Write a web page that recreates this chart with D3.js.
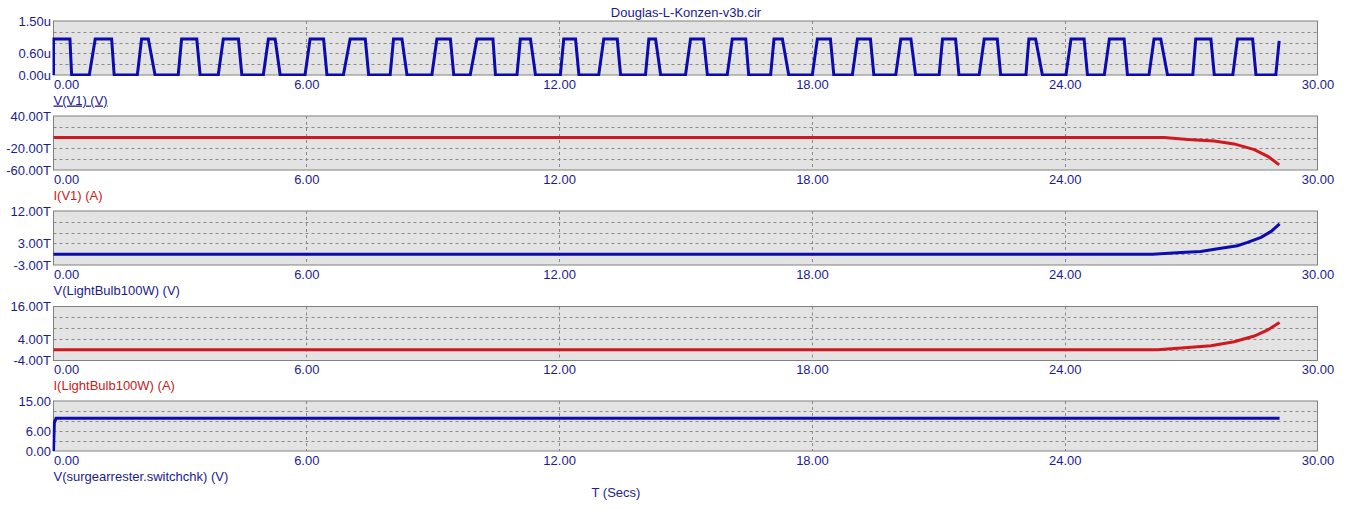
<!DOCTYPE html>
<html>
<head>
<meta charset="utf-8">
<script src="https://cdn.jsdelivr.net/npm/d3@7"></script>
<style>
  body { margin: 0; background: #fff; }
  svg { display: block; }
  text { font-family: Arial, "Liberation Sans", sans-serif; }
</style>
</head>
<body>
<div id="chart"></div>
<script>
var width = 1353;
var height = 513;

// x axis: time in seconds
var xDomain = [0, 30];
var xTicks = [0, 6, 12, 18, 24, 30];

// each pulse of V(V1): [rise start, rise end, fall start, fall end] in secs
var pulseEdges = [
  [0.00, 0.00, 0.39, 0.43], [0.85, 0.99, 1.38, 1.44], [1.99, 2.09, 2.25, 2.41],
  [2.96, 3.04, 3.40, 3.48], [3.91, 4.03, 4.39, 4.47], [4.98, 5.10, 5.26, 5.38],
  [5.97, 6.09, 6.41, 6.49], [6.88, 7.04, 7.40, 7.48], [7.99, 8.07, 8.27, 8.39],
  [8.98, 9.10, 9.42, 9.50], [9.89, 10.05, 10.43, 10.49], [11.00, 11.08, 11.32, 11.44],
  [12.03, 12.11, 12.39, 12.47], [12.94, 13.06, 13.38, 13.46], [14.05, 14.13, 14.29, 14.41],
  [15.00, 15.12, 15.43, 15.52], [15.99, 16.11, 16.43, 16.50], [17.02, 17.10, 17.30, 17.45],
  [18.01, 18.13, 18.44, 18.52], [18.96, 19.08, 19.39, 19.47], [19.99, 20.11, 20.35, 20.46],
  [21.02, 21.10, 21.41, 21.49], [21.97, 22.09, 22.40, 22.48], [23.08, 23.15, 23.31, 23.47],
  [24.03, 24.15, 24.46, 24.54], [24.94, 25.06, 25.41, 25.49], [26.00, 26.12, 26.28, 26.44],
  [27.04, 27.11, 27.47, 27.55], [27.99, 28.10, 28.46, 28.54]
];
var pulseHigh = 1.0;
// last partial rise at the end of the run
var pulseTail = [[29.01, 0], [29.09, 0.95]];

// [t, value] samples of the other traces
var iV1 = [[0, 0], [26.36, 0], [26.92, -3.7], [27.55, -6.1], [28.02, -11.7],
  [28.50, -22.2], [28.82, -34.6], [29.09, -50.6]];
var vBulb = [[0, 0], [26.09, 0], [26.76, 0.5], [27.23, 0.78], [27.63, 1.53],
  [28.10, 2.36], [28.34, 3.28], [28.66, 4.67], [28.90, 6.33], [29.10, 8.4]];
var iBulb = [[0, 0], [26.20, 0], [26.85, 0.7], [27.47, 1.46], [28.02, 2.95],
  [28.50, 5.07], [28.82, 7.3], [29.10, 10.1]];
var vSwitch = [[0, 0], [0.02, 8.5], [0.06, 9.8], [29.10, 9.8]];

// y axes of the five panels
var yDomains = [[0, 1.5], [-60, 40], [-3, 12], [-4, 16], [0, 15]];
var yTickLabels = [
  ["0.00u", "0.60u", "1.50u"],
  ["-60.00T", "-20.00T", "40.00T"],
  ["-3.00T", "3.00T", "12.00T"],
  ["-4.00T", "4.00T", "16.00T"],
  ["0.00", "6.00", "15.00"]
];
var seriesNames = ["V(V1) (V)", "I(V1) (A)", "V(LightBulb100W) (V)",
  "I(LightBulb100W) (A)", "V(surgearrester.switchchk) (V)"];

// build the pulse trace from the read edges
var vV1 = [];
pulseEdges.forEach(function(e) {
  vV1.push([e[0], 0], [e[1], pulseHigh], [e[2], pulseHigh], [e[3], 0]);
});
pulseTail.forEach(function(p) { vV1.push(p); });

var seriesData = [vV1, iV1, vBulb, iBulb, vSwitch];

var blue = "#0b0bb0";
var red = "#d01820";
var textBlue = "#1c1c8e";
var textRed = "#c82020";
var seriesColors = [blue, red, blue, red, blue];
var labelColors = [textBlue, textRed, textBlue, textRed, textBlue];

var panels = [
  { top: 21, h: 54 },
  { top: 116, h: 54 },
  { top: 211, h: 54 },
  { top: 306.5, h: 54 },
  { top: 401, h: 50 }
];
var plotLeft = 53.5, plotRight = 1317.5;

var svg = d3.select("#chart")
  .append("svg")
  .attr("width", width)
  .attr("height", height);

var x = d3.scaleLinear().domain(xDomain).range([plotLeft, plotRight]);

//Title
svg.append("text")
  .attr("x", 686)
  .attr("y", 17)
  .attr("text-anchor", "middle")
  .style("font-size", "13px")
  .style("fill", textBlue)
  .text("Douglas-L-Konzen-v3b.cir");

var defs = svg.append("defs");

panels.forEach(function(p, i) {
  var dom = yDomains[i];
  var y = d3.scaleLinear().domain(dom).range([p.top + p.h, p.top]);
  var g = svg.append("g").attr("class", "panel");

  //Plot background
  g.append("rect")
    .attr("x", plotLeft)
    .attr("y", p.top)
    .attr("width", plotRight - plotLeft)
    .attr("height", p.h)
    .style("fill", "#e3e3e3");

  //Dashed grid, 5 divisions on y
  var step = (dom[1] - dom[0]) / 5;
  var yGrid = d3.range(1, 5).map(function(k) { return dom[0] + k * step; });
  g.selectAll(".hgrid")
    .data(yGrid)
    .enter().append("line")
    .attr("x1", plotLeft).attr("x2", plotRight)
    .attr("y1", function(d) { return Math.round(y(d)) + 0.5; })
    .attr("y2", function(d) { return Math.round(y(d)) + 0.5; })
    .style("stroke", "#8a8a8a")
    .style("stroke-dasharray", "3,3");

  g.selectAll(".vgrid")
    .data(xTicks.slice(1, -1))
    .enter().append("line")
    .attr("x1", function(d) { return Math.round(x(d)) + 0.5; })
    .attr("x2", function(d) { return Math.round(x(d)) + 0.5; })
    .attr("y1", p.top).attr("y2", p.top + p.h)
    .style("stroke", "#8a8a8a")
    .style("stroke-dasharray", "3,3");

  //Border
  g.append("rect")
    .attr("x", plotLeft)
    .attr("y", p.top)
    .attr("width", plotRight - plotLeft)
    .attr("height", p.h)
    .style("fill", "none")
    .style("stroke", "#808080");

  //Trace
  defs.append("clipPath")
    .attr("id", "clip" + i)
    .append("rect")
    .attr("x", plotLeft - 1)
    .attr("y", p.top - 1)
    .attr("width", plotRight - plotLeft + 2)
    .attr("height", p.h + 2);

  var line = d3.line()
    .x(function(d) { return x(d[0]); })
    .y(function(d) { return y(d[1]); });

  g.append("path")
    .datum(seriesData[i])
    .attr("clip-path", "url(#clip" + i + ")")
    .attr("d", line)
    .style("fill", "none")
    .style("stroke", seriesColors[i])
    .style("stroke-width", 3)
    .style("stroke-linejoin", "miter");

  //Y tick labels: bottom, second grid line, top
  var yAxis = d3.axisLeft(y)
    .tickValues([dom[0], dom[0] + 2 * step, dom[1]])
    .tickSize(0)
    .tickPadding(2.5)
    .tickFormat(function(d, k) { return yTickLabels[i][k]; });

  var ya = g.append("g")
    .attr("transform", "translate(" + plotLeft + ",0)")
    .call(yAxis);
  ya.select(".domain").remove();
  ya.selectAll("text")
    .style("font-size", "13px")
    .style("font-family", "Arial, 'Liberation Sans', sans-serif")
    .style("fill", textBlue);

  //X tick labels
  var xAxis = d3.axisBottom(x)
    .tickValues(xTicks)
    .tickSize(0)
    .tickPadding(4.5)
    .tickFormat(d3.format(".2f"));

  var xa = g.append("g")
    .attr("transform", "translate(0," + (p.top + p.h) + ")")
    .call(xAxis);
  xa.select(".domain").remove();
  xa.selectAll("text")
    .style("font-size", "13px")
    .style("font-family", "Arial, 'Liberation Sans', sans-serif")
    .style("fill", textBlue)
    .attr("text-anchor", function(d) { return d === xDomain[0] ? "start" : "middle"; });

  //Series name
  g.append("text")
    .attr("x", plotLeft)
    .attr("y", p.top + p.h + 29.5)
    .style("font-size", "13px")
    .style("fill", labelColors[i])
    .style("text-decoration", i === 0 ? "underline" : "none")
    .text(seriesNames[i]);
});

//X axis title
svg.append("text")
  .attr("x", 616)
  .attr("y", 497)
  .attr("text-anchor", "middle")
  .style("font-size", "13px")
  .style("fill", textBlue)
  .text("T (Secs)");
</script>
</body>
</html>
